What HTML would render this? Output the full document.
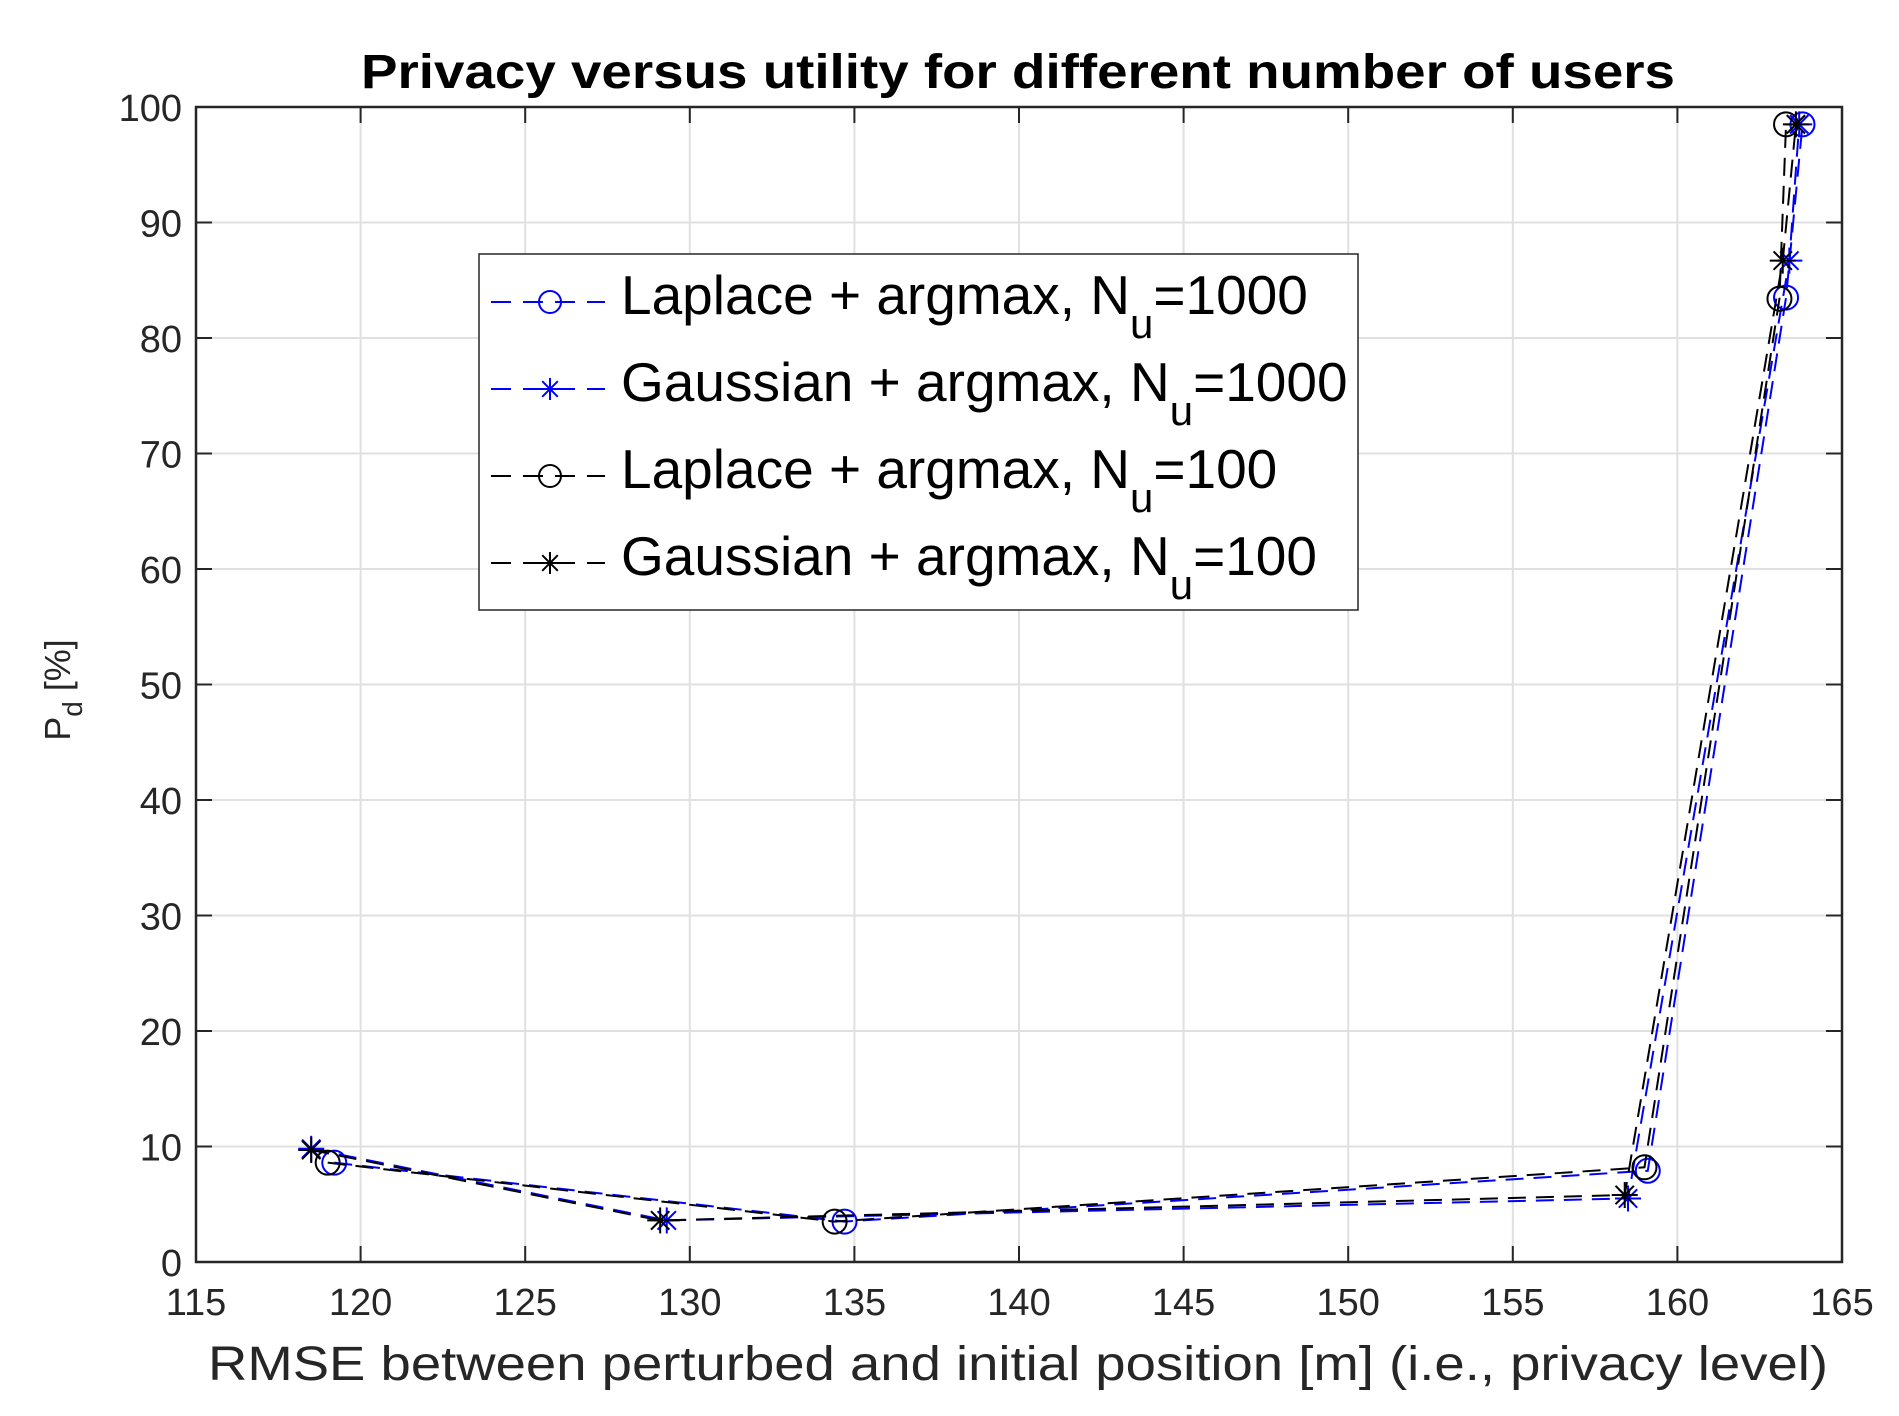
<!DOCTYPE html>
<html><head><meta charset="utf-8"><style>
html,body{margin:0;padding:0;background:#fff;}
svg{display:block;font-family:"Liberation Sans",sans-serif;}
</style></head><body>
<svg id="chart" width="1899" height="1416" viewBox="0 0 1899 1416" xmlns="http://www.w3.org/2000/svg">
<rect width="1899" height="1416" fill="#fff"/>
<g id="grid"></g>
<g id="series"></g>
<g id="axes"></g>
<text x="1018" y="88" text-anchor="middle" font-size="48" font-weight="bold" fill="#000" textLength="1314" lengthAdjust="spacingAndGlyphs">Privacy versus utility for different number of users</text>
<text x="1018" y="1380" text-anchor="middle" font-size="48" fill="#262626" textLength="1620" lengthAdjust="spacingAndGlyphs">RMSE between perturbed and initial position [m] (i.e., privacy level)</text>
<text transform="translate(70,690) rotate(-90)" text-anchor="middle" font-size="36" fill="#262626">P<tspan dy="12" font-size="28">d</tspan><tspan dy="-12">  [%]</tspan></text>
<g>
<rect x="479" y="254" width="879" height="356" fill="#fff" stroke="#262626" stroke-width="1.5"/>
<g id="legend-items"></g>
</g>
</svg>
<script>
const xTicks=[115,120,125,130,135,140,145,150,155,160,165];
const yTicks=[0,10,20,30,40,50,60,70,80,90,100];
const seriesNames=["Laplace + argmax, N","Gaussian + argmax, N","Laplace + argmax, N","Gaussian + argmax, N"];
const seriesSubs=["=1000","=1000","=100","=100"];
const seriesColors=["#0000ff","#0000ff","#000000","#000000"];
const seriesMarkers=["o","*","o","*"];
const lapX1000=[119.2,134.7,159.1,163.3,163.8];
const lapY1000=[8.6,3.5,7.9,83.5,98.5];
const gauX1000=[118.5,129.3,158.5,163.4,163.7];
const gauY1000=[9.8,3.6,5.5,86.7,98.5];
const lapX100=[119.0,134.4,159.0,163.1,163.3];
const lapY100=[8.6,3.5,8.2,83.4,98.5];
const gauX100=[118.5,129.1,158.4,163.2,163.6];
const gauY100=[9.7,3.6,5.8,86.7,98.5];
const xs=[lapX1000,gauX1000,lapX100,gauX100];
const ys=[lapY1000,gauY1000,lapY100,gauY100];

const L=196,R=1842,T=107,B=1262;
const X=v=>L+(v-115)/(165-115)*(R-L);
const Y=v=>B-(v-0)/(100-0)*(B-T);
const NS="http://www.w3.org/2000/svg";
function mk(tag,attrs,parent){const e=document.createElementNS(NS,tag);for(const k in attrs)e.setAttribute(k,attrs[k]);parent.appendChild(e);return e;}
const grid=document.getElementById('grid'),axes=document.getElementById('axes'),ser=document.getElementById('series');
xTicks.forEach(t=>{
  const g=mk('line',{x1:X(t),x2:X(t),y1:T,y2:B,stroke:'#e0e0e0','stroke-width':2},grid);
  
  
  mk('line',{x1:X(t),x2:X(t),y1:B,y2:B-16,stroke:'#262626','stroke-width':2},axes);
  mk('line',{x1:X(t),x2:X(t),y1:T,y2:T+16,stroke:'#262626','stroke-width':2},axes);
  const tx=mk('text',{x:X(t),y:B+53,'text-anchor':'middle','font-size':38,fill:'#262626'},axes);
  tx.textContent=t;
  
  
});
yTicks.forEach(t=>{
  const g=mk('line',{x1:L,x2:R,y1:Y(t),y2:Y(t),stroke:'#e0e0e0','stroke-width':2},grid);
  
  
  mk('line',{x1:L,x2:L+16,y1:Y(t),y2:Y(t),stroke:'#262626','stroke-width':2},axes);
  mk('line',{x1:R,x2:R-16,y1:Y(t),y2:Y(t),stroke:'#262626','stroke-width':2},axes);
  const tx=mk('text',{x:L-14,y:Y(t)+14,'text-anchor':'end','font-size':38,fill:'#262626'},axes);
  tx.textContent=t;
  
  
});
mk('rect',{x:L,y:T,width:R-L,height:B-T,fill:'none',stroke:'#262626','stroke-width':2.5},axes);

function marker(type,cx,cy,col,r,parent){
  if(type==='o'){mk('circle',{cx:cx,cy:cy,r:r,fill:'none',stroke:col,'stroke-width':2},parent);}
  else{
    for(let a=0;a<4;a++){const an=a*Math.PI/4;
      mk('line',{x1:cx-r*Math.cos(an),y1:cy-r*Math.sin(an),x2:cx+r*Math.cos(an),y2:cy+r*Math.sin(an),stroke:col,'stroke-width':2},parent);}
  }
}
for(let s=0;s<4;s++){
  const g=mk('g',{},ser);
  
  
  const pts=xs[s].map((v,i)=>X(v)+','+Y(ys[s][i])).join(' ');
  mk('polyline',{points:pts,fill:'none',stroke:seriesColors[s],'stroke-width':2,'stroke-dasharray':'18,10'},g);
  xs[s].forEach((v,i)=>marker(seriesMarkers[s],X(v),Y(ys[s][i]),seriesColors[s],seriesMarkers[s]==='o'?12:13,g));
}
const li=document.getElementById('legend-items');
for(let s=0;s<4;s++){
  const y=302+s*87;
  const g=mk('g',{},li);
  
  
  mk('line',{x1:491,x2:605,y1:y,y2:y,stroke:seriesColors[s],'stroke-width':2,'stroke-dasharray':'20,12'},g);
  marker(seriesMarkers[s],550,y,seriesColors[s],11,g);
  const t=mk('text',{x:621,y:y+12,'font-size':55,fill:'#000'},g);
  t.textContent=seriesNames[s];
  const ts=mk('tspan',{dy:24,'font-size':42},t);ts.textContent='u';
  const ts2=mk('tspan',{dy:-24},t);ts2.textContent=seriesSubs[s];
}
</script>
</body></html>
